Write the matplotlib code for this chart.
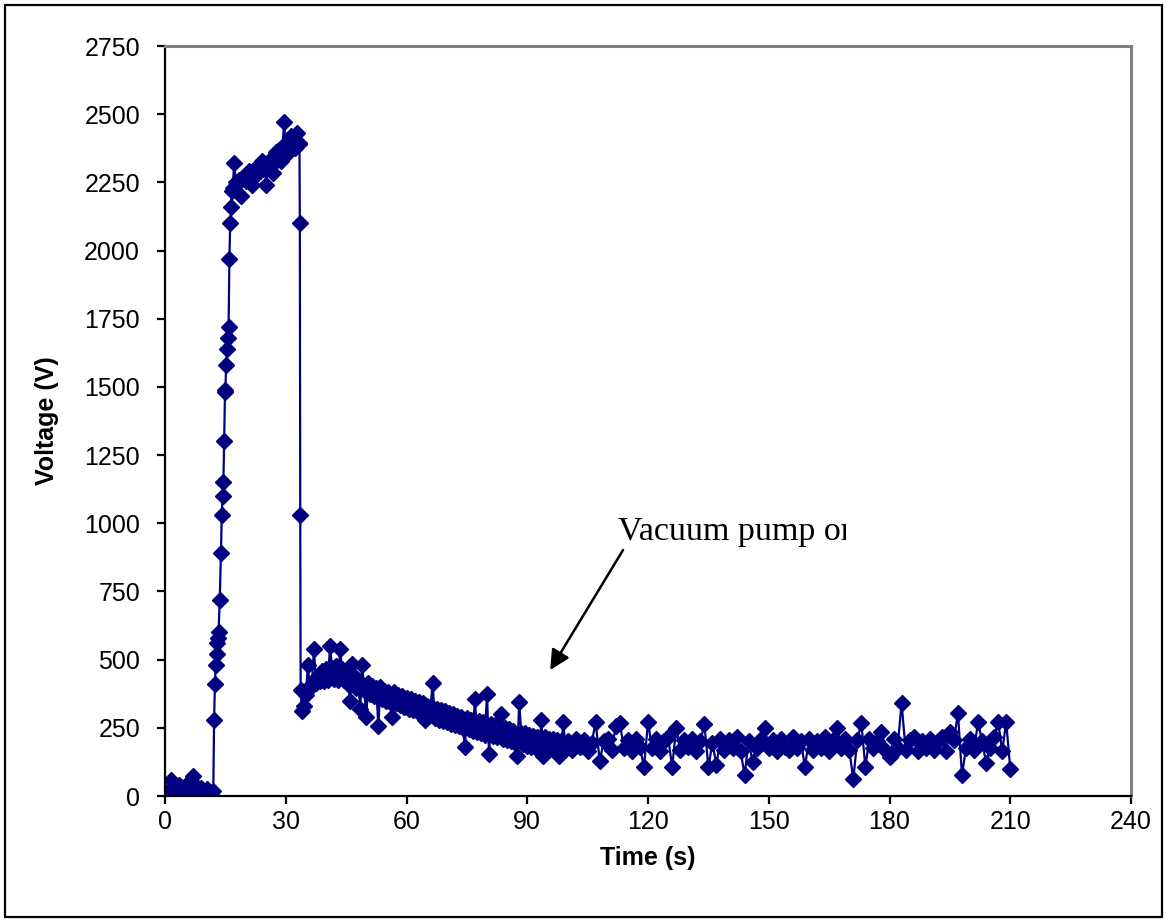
import matplotlib
matplotlib.use("Agg")
import matplotlib.pyplot as plt
import numpy as np
from matplotlib.patches import Rectangle

plt.rcParams['font.family'] = ['Liberation Sans', 'DejaVu Sans']

# baseline before the voltage comes up, every 0.5 s from 0 s
base_t0, base_dt = 0.0, 0.5
base_v = [10, 5, 15, 60, 35, 10, 20, 40, 15, 5, 25, 45, 20,
          50, 75, 40, 25, 15, 30, 20, 10, 25, 15, 10, 20]

# steep rise
rise_t = [12.2, 12.4, 12.6, 12.8, 12.9, 13.1, 13.3, 13.6, 13.9, 14.1, 14.3, 14.5,
          14.7, 14.9, 15.0, 15.2, 15.4, 15.6, 15.8, 16.0, 16.2, 16.4, 16.6]
rise_v = [280, 410, 480, 520, 560, 580, 600, 720, 890, 1030, 1100, 1150,
          1300, 1480, 1490, 1580, 1640, 1680, 1720, 1970, 2100, 2160, 2220]

# plateau, every 0.4 s from 16.8 s
plat_t0, plat_dt = 16.8, 0.4
plat_v = [2230, 2320, 2250, 2245, 2260, 2200, 2265, 2270, 2255, 2280,
          2290, 2270, 2240, 2295, 2300, 2280, 2310, 2290, 2330, 2300,
          2315, 2240, 2320, 2330, 2310, 2285, 2345, 2360, 2340, 2370,
          2330, 2385, 2470, 2370, 2380, 2360, 2420, 2390, 2400, 2375,
          2430, 2395]

# collapse
drop_t = [33.4, 33.5, 33.6, 33.7]
drop_v = [2390, 2100, 1030, 390]

# vacuum pump decay, every 0.5 s from 34 s
decay_t0, decay_dt = 34.0, 0.5
decay_v = [310, 330, 370, 480, 395, 410, 540, 415, 440, 420,
           460, 420, 465, 425, 550, 470, 430, 475, 425, 540,
           465, 425, 450, 410, 350, 485, 440, 395, 425, 320,
           480, 390, 290, 415, 375, 405, 365, 395, 255, 400,
           355, 385, 350, 380, 345, 290, 380, 340, 370, 335,
           365, 325, 360, 320, 355, 315, 350, 310, 345, 305,
           340, 280, 330, 295, 330, 415, 285, 320, 280, 315,
           275, 310, 270, 305, 265, 300, 260, 295, 255, 290,
           250, 180, 285, 245, 280, 240, 355, 235, 275, 230,
           270, 225, 375, 155, 265, 220, 260, 215, 255, 300,
           210, 250, 205, 245, 200, 240, 195, 145, 345, 230,
           190, 230, 185, 225, 180, 220, 180, 215, 175, 280,
           145, 215, 170, 210, 175, 210, 170, 205, 145, 200,
           270, 170]

# steady tail, every 1 s from 100 s
tail_t0, tail_dt = 100.0, 1.0
tail_v = [200, 170, 210, 180, 205, 165, 195, 271, 128, 200,
          210, 170, 257, 268, 175, 205, 165, 210, 180, 106,
          271, 175, 210, 165, 200, 215, 106, 249, 170, 205,
          180, 210, 165, 200, 264, 106, 195, 114, 210, 170,
          205, 175, 215, 165, 77, 200, 125, 175, 210, 249,
          175, 205, 165, 210, 180, 170, 215, 175, 200, 106,
          210, 170, 200, 175, 215, 165, 205, 249, 175, 210,
          170, 62, 205, 268, 106, 210, 175, 200, 235, 170,
          143, 210, 175, 341, 170, 205, 215, 165, 200, 175,
          210, 170, 200, 215, 165, 235, 205, 304, 77, 175,
          210, 170, 271, 200, 121, 175, 215, 271, 165, 271,
          99]

x_ticks = [0, 30, 60, 90, 120, 150, 180, 210, 240]
y_ticks = [0, 250, 500, 750, 1000, 1250, 1500, 1750, 2000, 2250, 2500, 2750]


def grid(t0, dt, vals):
    return list(t0 + dt * np.arange(len(vals)))


time_s = (grid(base_t0, base_dt, base_v) + rise_t + grid(plat_t0, plat_dt, plat_v)
          + drop_t + grid(decay_t0, decay_dt, decay_v) + grid(tail_t0, tail_dt, tail_v))
volt = base_v + rise_v + plat_v + drop_v + decay_v + tail_v

fig = plt.figure(figsize=(11.67, 9.22), dpi=100)
ax = fig.add_axes([165 / 1167, 126 / 922, 966 / 1167, 750 / 922])

navy = '#000080'
ax.plot(time_s, volt, color=navy, lw=1.6, marker='D', ms=8.5, mec=navy, mfc=navy)

ax.set_xlim(0, 240)
ax.set_ylim(0, 2750)
ax.set_xticks(x_ticks)
ax.set_yticks(y_ticks)
ax.tick_params(direction='out', length=6, width=1.6, labelsize=18, colors='black')
ax.tick_params(axis='y', pad=12)
ax.tick_params(axis='x', pad=4)

for side in ['left', 'bottom']:
    ax.spines[side].set_linewidth(1.6)
    ax.spines[side].set_color('black')
for side in ['top', 'right']:
    ax.spines[side].set_linewidth(2.2)
    ax.spines[side].set_color('#808080')

ax.set_xlabel('Time (s)', fontsize=18, fontweight='bold', labelpad=9)
ax.set_ylabel('Voltage (V)', fontsize=18, fontweight='bold', labelpad=18)

ax.text(112.5, 939, 'Vacuum pump on', family=['Liberation Serif', 'DejaVu Serif'],
        fontsize=24.5, ha='left', va='baseline')
ax.annotate('', xy=(95.7, 462), xytext=(113.8, 902),
            arrowprops=dict(arrowstyle='-|>', color='black', lw=1.8, mutation_scale=30,
                            shrinkA=0, shrinkB=0))

# the text box in the original cuts off the end of "on"
fig.patches.append(Rectangle((846 / 1167, 360 / 922), 60 / 1167, 60 / 922,
                             transform=fig.transFigure, facecolor='white',
                             edgecolor='none', zorder=5))

# outer frame
fig.patches.append(Rectangle((5 / 1167, 5 / 922), 1157 / 1167, 912 / 922,
                             transform=fig.transFigure, fill=False,
                             edgecolor='black', lw=1.6))

fig.savefig('out.png', dpi=100)
